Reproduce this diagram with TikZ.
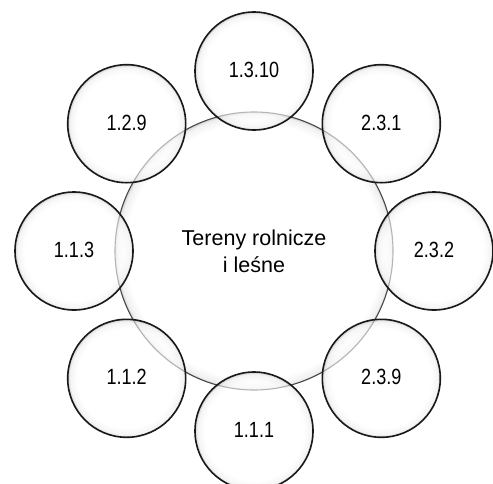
\documentclass[tikz,border=0pt]{standalone}
\usepackage{fontspec}
\setmainfont{Liberation Sans}
\pgfdeclareradialshading{rimshade}{\pgfpoint{0bp}{0bp}}{color(0bp)=(white); color(21bp)=(white); color(24bp)=(black!7); color(25bp)=(black!30); color(50bp)=(black!30)}
\pgfdeclareradialshading{bigrimshade}{\pgfpoint{0bp}{0bp}}{color(0bp)=(white); color(23bp)=(white); color(24.6bp)=(black!6); color(25bp)=(black!18); color(50bp)=(black!18)}
\tikzset{
  bigc/.style={circle, draw=black!72, line width=1.1pt, minimum size=278pt, inner sep=0pt,
    shading=bigrimshade, align=center, font=\fontsize{21.5}{27}\selectfont},
  smallc/.style={circle, draw=black!90, line width=1.6pt, minimum size=118pt, inner sep=0pt,
    shading=rimshade, fill opacity=0.6, draw opacity=1, text opacity=1,
    font=\fontsize{22}{26}\selectfont},
}
\newcommand{\lbl}[1]{\raisebox{2pt}{\scalebox{0.82}[1]{#1}}}
\begin{document}
\begin{tikzpicture}[x=1pt,y=-1pt]
\useasboundingbox (0,0) rectangle (493,483);
\node[bigc] (c) at (254,251) {Tereny rolnicze\\i leśne};
\node[smallc] (a1) at (254,71) {\lbl{1.3.10}};
\node[smallc] (a2) at (381.3,123.7) {\lbl{2.3.1}};
\node[smallc] (a3) at (434,251) {\lbl{2.3.2}};
\node[smallc] (a4) at (381.3,378.3) {\lbl{2.3.9}};
\node[smallc] (a5) at (254,431) {\lbl{1.1.1}};
\node[smallc] (a6) at (126.7,378.3) {\lbl{1.1.2}};
\node[smallc] (a7) at (74,251) {\lbl{1.1.3}};
\node[smallc] (a8) at (126.7,123.7) {\lbl{1.2.9}};
\end{tikzpicture}
\end{document}
